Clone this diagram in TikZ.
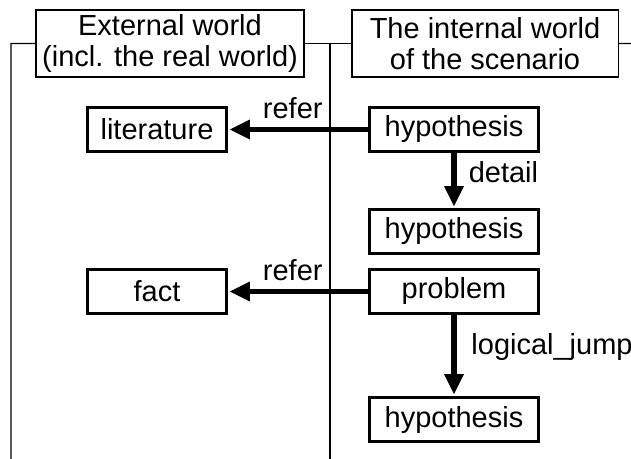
\documentclass[tikz,border=0pt]{standalone}
\usepackage{fontspec}
\setmainfont{Liberation Sans}
\usepackage{tikz}
\usetikzlibrary{calc}

\begin{document}
\begin{tikzpicture}[scale=0.2]
\tikzstyle{every node}+=[inner sep=0pt, font=\fontsize{33}{36}\selectfont]
\tikzstyle{world}=[draw, line width=1.4pt, align=center, minimum height=76pt]
\tikzstyle{item}=[draw, line width=3.6pt, minimum height=51pt]
\tikzstyle{lane}=[line width=1.4pt]
\tikzstyle{link}=[line width=5.7pt]
\useasboundingbox (0,0) rectangle (126.2,-91.8);
% the two worlds
\node [world, minimum width=305pt] (ext) at (34,-8.7) {External world\\(incl. the real world)};
\node [world, minimum width=303pt] (int) at (97,-8.7) {The internal world\\of the scenario};
\draw [lane] (2.2,-91.8) -- (2.2,-8.7) -- (ext.west);
\draw [lane] (ext.east) -- (int.west);
\draw [lane] (66,-8.7) -- (66,-91.8);
\draw [lane] (int.east) -- (126.2,-8.7);
% elements
\node [item, minimum width=159pt] (lit) at (31.4,-25.9) {literature};
\node [item, minimum width=193pt] (hyp1) at (90.8,-25.9) {hypothesis};
\node [item, minimum width=193pt] (hyp2) at (90.8,-46.3) {hypothesis};
\node [item, minimum width=159pt] (fact) at (31.4,-58.3) {fact};
\node [item, minimum width=193pt] (prob) at (90.8,-58.3) {problem};
\node [item, minimum width=193pt] (hyp3) at (90.8,-83.9) {hypothesis};
% links
\draw [link] (hyp1.west) -- ($(lit.east)+(3.5,0)$) node [midway, above, inner sep=9pt, xshift=-16pt] {refer};
\fill ($(lit.east)+(0.3,0)$) -- ++(4,2) -- ++(0,-4) -- cycle;
\draw [link] (hyp1.south) -- ($(hyp2.north)+(0,3.5)$) node [midway, right, inner sep=14pt] {detail};
\fill ($(hyp2.north)+(0,0.3)$) -- ++(-2,4) -- ++(4,0) -- cycle;
\draw [link] (prob.west) -- ($(fact.east)+(3.5,0)$) node [midway, above, inner sep=9pt, xshift=-16pt] {refer};
\fill ($(fact.east)+(0.3,0)$) -- ++(4,2) -- ++(0,-4) -- cycle;
\draw [link] (prob.south) -- ($(hyp3.north)+(0,3.5)$) node [midway, right, inner sep=17pt] {logical\_jump};
\fill ($(hyp3.north)+(0,0.3)$) -- ++(-2,4) -- ++(4,0) -- cycle;
\end{tikzpicture}
\end{document}
